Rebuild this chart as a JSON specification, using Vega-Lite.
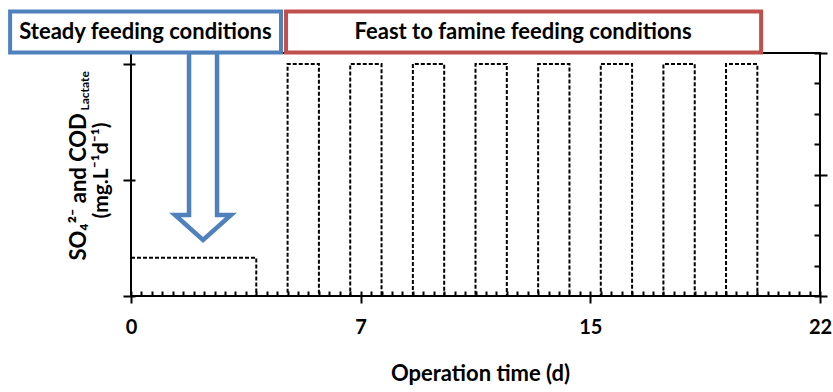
{
  "$schema": "https://vega.github.io/schema/vega-lite/v6.json",
  "width": 689,
  "height": 243,
  "autosize": {"type": "none"},
  "padding": {"left": 131, "top": 53, "right": 13, "bottom": 96},
  "background": "white",
  "config": {
    "font": "Lato",
    "view": {"stroke": "black", "strokeWidth": 2},
    "axis": {
      "grid": false,
      "domain": false,
      "tickColor": "black",
      "tickWidth": 2,
      "labelFont": "Lato",
      "labelFontWeight": "bold",
      "labelColor": "black",
      "titleFont": "Lato",
      "titleFontWeight": "bold",
      "titleColor": "black"
    }
  },
  "datasets": {
    "feed": [
      {"day": 0, "rate": 0.33},
      {"day": 4, "rate": 0},
      {"day": 5, "rate": 2},
      {"day": 6, "rate": 0},
      {"day": 7, "rate": 2},
      {"day": 8, "rate": 0},
      {"day": 9, "rate": 2},
      {"day": 10, "rate": 0},
      {"day": 11, "rate": 2},
      {"day": 12, "rate": 0},
      {"day": 13, "rate": 2},
      {"day": 14, "rate": 0},
      {"day": 15, "rate": 2},
      {"day": 16, "rate": 0},
      {"day": 17, "rate": 2},
      {"day": 18, "rate": 0},
      {"day": 19, "rate": 2},
      {"day": 20, "rate": 0}
    ],
    "phases": [
      {"phase": "Steady feeding conditions", "start": -3.86, "end": 4.79, "mid": 0.46},
      {"phase": "Feast to famine feeding conditions", "start": 4.95, "end": 20.12, "mid": 12.52}
    ]
  },
  "layer": [
    {
      "data": {"name": "feed"},
      "mark": {"type": "line", "interpolate": "step-after", "color": "black", "strokeWidth": 2, "strokeDash": [4, 2]},
      "encoding": {
        "x": {
          "field": "day",
          "type": "quantitative",
          "scale": {"domain": [0, 22], "nice": false, "zero": false},
          "axis": {
            "orient": "bottom",
            "values": [0, 7.333333, 14.666667, 22],
            "tickSize": 7,
            "labelExpr": "format(datum.value, '.0f')",
            "labelFontSize": 20,
            "labelBaseline": "alphabetic",
            "labelPadding": 30,
            "labelFlush": false,
            "labelOverlap": false,
            "title": "Operation time (d)",
            "titleFontSize": 22,
            "titleX": 349,
            "titleY": 84,
            "titleAlign": "center",
            "titleBaseline": "alphabetic"
          }
        },
        "y": {
          "field": "rate",
          "type": "quantitative",
          "scale": {"domain": [0, 2.095], "nice": false},
          "axis": {"orient": "left", "offset": -4, "values": [0, 1, 2], "tickSize": 12, "labels": false, "title": null}
        }
      }
    },
    {
      "data": {"name": "feed"},
      "mark": {"type": "point", "opacity": 0},
      "encoding": {
        "x": {
          "field": "day",
          "type": "quantitative",
          "scale": {"domain": [0, 22], "nice": false, "zero": false},
          "axis": {
            "orient": "bottom",
            "offset": -5,
            "values": [0, 0.333333, 0.666667, 1, 1.333333, 1.666667, 2, 2.333333, 2.666667, 3, 3.333333, 3.666667, 4, 4.333333, 4.666667, 5, 5.333333, 5.666667, 6, 6.333333, 6.666667, 7, 7.333333, 7.666667, 8, 8.333333, 8.666667, 9, 9.333333, 9.666667, 10, 10.333333, 10.666667, 11, 11.333333, 11.666667, 12, 12.333333, 12.666667, 13, 13.333333, 13.666667, 14, 14.333333, 14.666667, 15, 15.333333, 15.666667, 16, 16.333333, 16.666667, 17, 17.333333, 17.666667, 18, 18.333333, 18.666667, 19, 19.333333, 19.666667, 20, 20.333333, 20.666667, 21, 21.333333, 21.666667, 22],
            "tickSize": 5,
            "labels": false,
            "title": null
          }
        },
        "y": {
          "field": "rate",
          "type": "quantitative",
          "scale": {"domain": [0, 8], "nice": false},
          "axis": {
            "orient": "right",
            "offset": -6,
            "values": [0, 1, 2, 3, 4, 5, 6, 7, 8],
            "tickSize": {"condition": {"test": "datum.value % 4 === 0", "value": 13}, "value": 6},
            "labels": false,
            "title": null
          }
        }
      }
    },
    {
      "data": {"name": "feed"},
      "mark": {"type": "point", "opacity": 0},
      "encoding": {
        "y": {
          "field": "rate",
          "type": "quantitative",
          "scale": {"domain": [0, 2.095], "nice": false},
          "axis": {
            "orient": "left",
            "ticks": false,
            "labels": false,
            "title": "SO₄²⁻ and COD",
            "titleFontSize": 22,
            "titleAngle": 270,
            "titleAlign": "left",
            "titleBaseline": "alphabetic",
            "titleX": -46,
            "titleY": 207
          }
        }
      }
    },
    {
      "data": {"name": "feed"},
      "mark": {"type": "point", "opacity": 0},
      "encoding": {
        "y": {
          "field": "rate",
          "type": "quantitative",
          "scale": {"domain": [0, 2.095], "nice": false},
          "axis": {
            "orient": "left",
            "ticks": false,
            "labels": false,
            "title": "Lactate",
            "titleFontSize": 12,
            "titleAngle": 270,
            "titleAlign": "left",
            "titleBaseline": "alphabetic",
            "titleX": -43,
            "titleY": 57
          }
        }
      }
    },
    {
      "data": {"name": "feed"},
      "mark": {"type": "point", "opacity": 0},
      "encoding": {
        "y": {
          "field": "rate",
          "type": "quantitative",
          "scale": {"domain": [0, 2.095], "nice": false},
          "axis": {
            "orient": "left",
            "ticks": false,
            "labels": false,
            "title": "(mg.L⁻¹d⁻¹)",
            "titleFontSize": 21,
            "titleAngle": 270,
            "titleAlign": "left",
            "titleBaseline": "alphabetic",
            "titleX": -24,
            "titleY": 165
          }
        }
      }
    },
    {
      "data": {"values": [{"note": "steady phase arrow"}]},
      "mark": {
        "type": "point",
        "shape": "M-0.149,-1L-0.149,0.734L-0.298,0.734L0,1L0.298,0.734L0.149,0.734L0.149,-1Z",
        "size": 35344,
        "filled": false,
        "fill": "white",
        "stroke": "#4f81bd",
        "strokeWidth": 4.5,
        "opacity": 1
      },
      "encoding": {
        "x": {"datum": 2.3, "type": "quantitative", "scale": {"domain": [0, 22], "nice": false, "zero": false}, "axis": null},
        "y": {"datum": 1.293, "type": "quantitative", "scale": {"domain": [0, 2.095], "nice": false}, "axis": null}
      }
    },
    {
      "data": {"name": "phases"},
      "mark": {"type": "rect", "fill": "white", "strokeWidth": 4},
      "encoding": {
        "x": {"field": "start", "type": "quantitative", "scale": {"domain": [0, 22], "nice": false, "zero": false}, "axis": null},
        "x2": {"field": "end"},
        "y": {"datum": 2.099, "type": "quantitative", "scale": {"domain": [0, 2.095], "nice": false}, "axis": null},
        "y2": {"datum": 2.453},
        "stroke": {
          "field": "phase",
          "type": "nominal",
          "scale": {"domain": ["Steady feeding conditions", "Feast to famine feeding conditions"], "range": ["#4f81bd", "#c0504d"]},
          "legend": null
        }
      }
    },
    {
      "data": {"name": "phases"},
      "mark": {"type": "text", "font": "Lato", "fontWeight": "bold", "fontSize": 22, "color": "black", "align": "center", "baseline": "middle"},
      "encoding": {
        "x": {"field": "mid", "type": "quantitative", "scale": {"domain": [0, 22], "nice": false, "zero": false}, "axis": null},
        "y": {"datum": 2.276, "type": "quantitative", "scale": {"domain": [0, 2.095], "nice": false}, "axis": null},
        "text": {"field": "phase"}
      }
    }
  ],
  "resolve": {"scale": {"y": "independent"}, "axis": {"x": "independent", "y": "independent"}}
}
